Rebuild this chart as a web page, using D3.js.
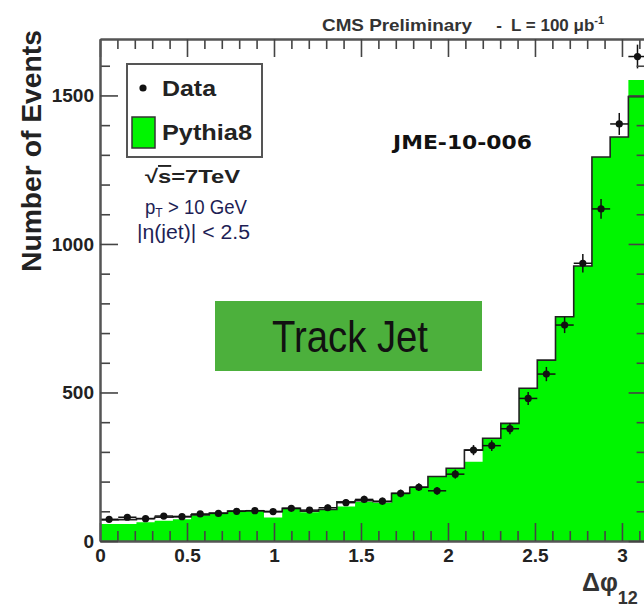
<!DOCTYPE html>
<html>
<head>
<meta charset="utf-8">
<script src="https://cdn.jsdelivr.net/npm/d3@7"></script>
<style>
  body { margin: 0; background: #fff; }
  svg { display: block; font-family: "Liberation Sans", Arial, sans-serif; }
</style>
</head>
<body>
<div id="chart"></div>
<script>
// 30 bins of width pi/30 between 0 and pi
var dataCounts = [73, 80, 75, 84, 82, 91, 93, 100, 102, 99, 110, 104, 112, 129, 140,
                  134, 160, 181, 169, 225, 306, 321, 378, 480, 562, 727, 935, 1118, 1404, 1631];
var dataErrors = [9, 9, 9, 9, 9, 10, 10, 10, 10, 10, 10, 10, 11, 11, 12,
                  12, 13, 13, 13, 15, 17, 18, 19, 22, 24, 27, 31, 33, 37, 40];
var pythiaFill = [57, 57, 63, 68, 73, 87, 93, 102, 102, 79, 110, 97, 104, 116, 132,
                  129, 161, 181, 217, 245, 267, 346, 396, 514, 609, 755, 926, 1293, 1360, 1552];
var pythiaOutline = [71, 72, 76, 80, 82, 88, 94, 101, 102, 99, 110, 100, 106, 132, 136,
                     132, 161, 181, 217, 245, 306, 346, 396, 514, 609, 755, 926, 1293, 1360, 1496];

var xTickValues = [0, 0.5, 1, 1.5, 2, 2.5, 3];
var xTickLabels = ["0", "0.5", "1", "1.5", "2", "2.5", "3"];
var yTickValues = [0, 500, 1000, 1500];
var yTickLabels = ["0", "500", "1000", "1500"];

var svgWidth = 644;
var svgHeight = 613;

// plot frame (right edge falls just outside the picture)
var frame = { left: 100, top: 39, right: 646.6, bottom: 541 };

var svg = d3.select("#chart")
  .append("svg")
  .attr("width", svgWidth)
  .attr("height", svgHeight);

var x = d3.scaleLinear().domain([0, Math.PI]).range([frame.left, frame.right]);
var y = d3.scaleLinear().domain([0, 1690]).range([frame.bottom, frame.top]);

var binWidth = Math.PI / dataCounts.length;

function steps(values) {
  var pts = values.map(function(v, i) { return [i * binWidth, v]; });
  pts.push([values.length * binWidth, values[values.length - 1]]);
  return pts;
}

svg.append("clipPath").attr("id", "plotClip")
  .append("rect")
  .attr("x", frame.left).attr("y", frame.top)
  .attr("width", frame.right - frame.left)
  .attr("height", frame.bottom - frame.top);

var plotGroup = svg.append("g").attr("clip-path", "url(#plotClip)");

// green Pythia8 histogram
var area = d3.area()
  .curve(d3.curveStepAfter)
  .x(function(d) { return x(d[0]); })
  .y0(y(0))
  .y1(function(d) { return y(d[1]); });

plotGroup.append("path")
  .attr("d", area(steps(pythiaFill)))
  .attr("fill", "#00f500");

// black outline histogram
var line = d3.line()
  .curve(d3.curveStepAfter)
  .x(function(d) { return x(d[0]); })
  .y(function(d) { return y(d[1]); });

plotGroup.append("path")
  .attr("d", line(steps(pythiaOutline)))
  .attr("fill", "none")
  .attr("stroke", "#222")
  .attr("stroke-width", 1.6);

// data points with error bars
var points = plotGroup.selectAll(".pt")
  .data(dataCounts)
  .enter()
  .append("g")
  .attr("class", "pt");

points.append("line")
  .attr("x1", function(d, i) { return x(i * binWidth); })
  .attr("x2", function(d, i) { return x((i + 1) * binWidth); })
  .attr("y1", function(d) { return y(d); })
  .attr("y2", function(d) { return y(d); })
  .attr("stroke", "#111").attr("stroke-width", 1.5);

points.append("line")
  .attr("x1", function(d, i) { return x((i + 0.5) * binWidth); })
  .attr("x2", function(d, i) { return x((i + 0.5) * binWidth); })
  .attr("y1", function(d, i) { return y(d - dataErrors[i]); })
  .attr("y2", function(d, i) { return y(d + dataErrors[i]); })
  .attr("stroke", "#111").attr("stroke-width", 1.5);

points.append("circle")
  .attr("cx", function(d, i) { return x((i + 0.5) * binWidth); })
  .attr("cy", function(d) { return y(d); })
  .attr("r", 3.6)
  .attr("fill", "#111");

// axes
var xMinor = d3.range(0, 3.15, 0.1).filter(function(v) { return Math.abs(v * 2 - Math.round(v * 2)) > 0.01; });
var yMinor = d3.range(0, 1700, 100).filter(function(v) { return v % 500 !== 0; });

function styleAxis(g) {
  g.select(".domain").attr("stroke", "#555").attr("stroke-width", 2);
  g.selectAll(".tick line").attr("stroke", "#444").attr("stroke-width", 1.6);
  g.selectAll(".tick text")
    .attr("fill", "#222")
    .style("font-size", "19px")
    .style("font-weight", "bold")
    .style("font-family", "'Liberation Sans', Arial, sans-serif");
}

// bottom
svg.append("g")
  .attr("transform", "translate(0," + frame.bottom + ")")
  .call(d3.axisBottom(x).tickValues(xMinor).tickSize(-10).tickSizeOuter(0).tickFormat(""))
  .call(styleAxis);
svg.append("g")
  .attr("transform", "translate(0," + frame.bottom + ")")
  .call(d3.axisBottom(x).tickValues(xTickValues).tickSize(-18).tickSizeOuter(0).tickPadding(8)
    .tickFormat(function(d, i) { return xTickLabels[i]; }))
  .call(styleAxis);

// top
svg.append("g")
  .attr("transform", "translate(0," + frame.top + ")")
  .call(d3.axisTop(x).tickValues(xMinor).tickSize(-10).tickSizeOuter(0).tickFormat(""))
  .call(styleAxis);
svg.append("g")
  .attr("transform", "translate(0," + frame.top + ")")
  .call(d3.axisTop(x).tickValues(xTickValues).tickSize(-18).tickSizeOuter(0).tickFormat(""))
  .call(styleAxis);

// left
svg.append("g")
  .attr("transform", "translate(" + frame.left + ",0)")
  .call(d3.axisLeft(y).tickValues(yMinor).tickSize(-10).tickSizeOuter(0).tickFormat(""))
  .call(styleAxis);
svg.append("g")
  .attr("transform", "translate(" + frame.left + ",0)")
  .call(d3.axisLeft(y).tickValues(yTickValues).tickSize(-18).tickSizeOuter(0).tickPadding(6)
    .tickFormat(function(d, i) { return yTickLabels[i]; }))
  .call(styleAxis);

// right
svg.append("g")
  .attr("transform", "translate(" + frame.right + ",0)")
  .call(d3.axisRight(y).tickValues(yMinor).tickSize(-10).tickSizeOuter(0).tickFormat(""))
  .call(styleAxis);
svg.append("g")
  .attr("transform", "translate(" + frame.right + ",0)")
  .call(d3.axisRight(y).tickValues(yTickValues).tickSize(-18).tickSizeOuter(0).tickFormat(""))
  .call(styleAxis);

// axis titles
svg.append("text")
  .attr("transform", "translate(41,151) rotate(-90)")
  .attr("text-anchor", "middle")
  .attr("textLength", 242)
  .attr("lengthAdjust", "spacingAndGlyphs")
  .style("font-size", "28px").style("font-weight", "bold").attr("fill", "#222")
  .text("Number of Events");

var xTitle = svg.append("text")
  .attr("x", 582).attr("y", 591)
  .attr("fill", "#333")
  .style("font-size", "25px").style("font-weight", "bold");
xTitle.append("tspan").text("Δφ");
xTitle.append("tspan").attr("dy", 13).style("font-size", "18px").text("12");

// header
svg.append("text")
  .attr("x", 322).attr("y", 31)
  .attr("textLength", 150).attr("lengthAdjust", "spacingAndGlyphs")
  .style("font-size", "17px").style("font-weight", "bold").attr("fill", "#333")
  .text("CMS Preliminary");
svg.append("text")
  .attr("x", 499).attr("y", 31).attr("text-anchor", "middle")
  .style("font-size", "17px").style("font-weight", "bold").attr("fill", "#333")
  .text("-");
var lumi = svg.append("text")
  .attr("x", 511).attr("y", 31)
  .style("font-size", "17px").style("font-weight", "bold").attr("fill", "#333");
lumi.append("tspan").text("L = 100 μb");
lumi.append("tspan").attr("dy", -7).style("font-size", "11px").text("-1");

// legend
svg.append("rect")
  .attr("x", 127).attr("y", 64).attr("width", 135).attr("height", 93)
  .attr("fill", "#fff").attr("stroke", "#555").attr("stroke-width", 2);
svg.append("circle").attr("cx", 143).attr("cy", 88).attr("r", 3.6).attr("fill", "#111");
svg.append("text")
  .attr("x", 162).attr("y", 96)
  .attr("textLength", 54).attr("lengthAdjust", "spacingAndGlyphs")
  .style("font-size", "22px").style("font-weight", "bold").attr("fill", "#222")
  .text("Data");
svg.append("rect")
  .attr("x", 132).attr("y", 117).attr("width", 23).attr("height", 31)
  .attr("fill", "#00f500").attr("stroke", "#333").attr("stroke-width", 1.5);
svg.append("text")
  .attr("x", 162).attr("y", 140)
  .attr("textLength", 90).attr("lengthAdjust", "spacingAndGlyphs")
  .style("font-size", "22px").style("font-weight", "bold").attr("fill", "#222")
  .text("Pythia8");

// cut labels
var sqrtS = svg.append("text")
  .attr("x", 145).attr("y", 183)
  .attr("textLength", 95).attr("lengthAdjust", "spacingAndGlyphs")
  .style("font-size", "19px").style("font-weight", "bold").attr("fill", "#222");
sqrtS.append("tspan").text("√");
sqrtS.append("tspan").style("text-decoration", "overline").text("s");
sqrtS.append("tspan").text("=7TeV");

var ptText = svg.append("text")
  .attr("x", 145).attr("y", 214)
  .attr("textLength", 102).attr("lengthAdjust", "spacingAndGlyphs")
  .style("font-size", "20px").style("font-family", "'Liberation Sans Narrow', 'Liberation Sans', sans-serif")
  .attr("fill", "#1e1e55");
ptText.append("tspan").text("p");
ptText.append("tspan").attr("dy", 3).style("font-size", "13px").text("T");
ptText.append("tspan").attr("dy", -3).text(" > 10 GeV");

svg.append("text")
  .attr("x", 137).attr("y", 239)
  .attr("textLength", 113).attr("lengthAdjust", "spacingAndGlyphs")
  .style("font-size", "20px").style("font-family", "'Liberation Sans Narrow', 'Liberation Sans', sans-serif")
  .attr("fill", "#1e1e55")
  .text("|η(jet)| < 2.5");

svg.append("text")
  .attr("x", 393).attr("y", 149)
  .attr("textLength", 139).attr("lengthAdjust", "spacingAndGlyphs")
  .style("font-size", "19px").style("font-weight", "bold").style("font-family", "'DejaVu Sans', sans-serif")
  .attr("fill", "#111")
  .text("JME-10-006");

// Track Jet label
svg.append("rect")
  .attr("x", 215).attr("y", 301).attr("width", 267).attr("height", 70)
  .attr("fill", "#4cb03c");
svg.append("text")
  .attr("x", 272).attr("y", 352)
  .attr("textLength", 156).attr("lengthAdjust", "spacingAndGlyphs")
  .style("font-size", "44px").style("font-family", "'Liberation Sans Narrow', 'Liberation Sans', sans-serif")
  .attr("fill", "#111")
  .text("Track Jet");
</script>
</body>
</html>
